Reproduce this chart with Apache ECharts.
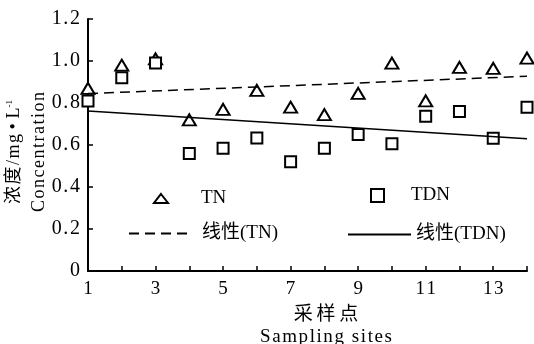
<!DOCTYPE html>
<html>
<head>
<meta charset="utf-8">
<script src="https://cdn.jsdelivr.net/npm/echarts@6/dist/echarts.min.js"></script>
<style>html,body{margin:0;padding:0;background:#fff;}#c{width:534px;height:344px;}</style>
</head>
<body>
<div id="c"></div>
<script>
// Data
var sites = [1, 2, 3, 4, 5, 6, 7, 8, 9, 10, 11, 12, 13, 14];
var tnValues = [0.87, 0.98, 1.01, 0.72, 0.77, 0.86, 0.78, 0.745, 0.846, 0.99, 0.81, 0.97, 0.965, 1.014];
var tdnValues = [0.81, 0.92, 0.99, 0.56, 0.585, 0.633, 0.52, 0.585, 0.65, 0.606, 0.737, 0.76, 0.632, 0.78];
var trendSites = [1, 14];
var tnTrend = [0.845, 0.927];
var tdnTrend = [0.762, 0.630];

function pairs(xs, ys) { return xs.map(function (x, i) { return [x, ys[i]]; }); }
var HS = '\u200A';
function spaced(s, sp) { return s.split('').join(sp); }

var FONT = "'Liberation Serif', 'Noto Sans CJK SC', serif";
var chart = echarts.init(document.getElementById('c'), null, {renderer: 'canvas'});
var legendText = {fontFamily: FONT, fontSize: 19, color: '#000'};
var hideSym = {opacity: 0};
chart.setOption({
  animation: false,
  backgroundColor: '#fff',
  grid: {left: 88, right: 7, top: 19, bottom: 73, containLabel: false, outerBoundsMode: 'none'},
  xAxis: {
    type: 'value', min: 1, max: 14, interval: 1,
    name: spaced('采样点', '\u2009') + '\n' + spaced('Sampling sites', HS),
    nameLocation: 'middle', nameGap: 30,
    nameTextStyle: {fontFamily: FONT, fontSize: 19, color: '#000', lineHeight: 22, padding: [0, 0, 0, 37]},
    axisLine: {show: true, lineStyle: {color: '#000', width: 2}},
    axisTick: {show: true, inside: true, length: 5, lineStyle: {color: '#000', width: 1.5}},
    axisLabel: {fontFamily: FONT, fontSize: 19, color: '#000', margin: 9,
      formatter: function (v) { return (v % 2 === 1) ? spaced(String(v), HS) : ''; }},
    splitLine: {show: false}
  },
  yAxis: {
    type: 'value', min: 0, max: 1.2, interval: 0.2,
    name: '{a|' + spaced('浓度/mg', HS) + ' • L}{sup|-1}\n{a|' + spaced('Concentration', HS) + '}',
    nameLocation: 'middle', nameGap: 36, nameMoveOverlap: false,
    nameTextStyle: {fontFamily: FONT, fontSize: 18, color: '#000', padding: [0, 14, 0, 0],
      rich: {a: {fontFamily: FONT, fontSize: 18, color: '#000', lineHeight: 25},
             sup: {fontFamily: FONT, fontSize: 9, color: '#000', lineHeight: 25, padding: [0, 0, 10, 0]}}},
    axisLine: {show: true, lineStyle: {color: '#000', width: 2}},
    axisTick: {show: true, inside: true, length: 5, lineStyle: {color: '#000', width: 1.5}},
    axisLabel: {fontFamily: FONT, fontSize: 20, color: '#000', margin: 8,
      formatter: function (v) { return v === 0 ? '0' : spaced(v.toFixed(1), HS); }},
    splitLine: {show: false}
  },
  legend: [
    {data: ['TN'], left: 153, top: 189, padding: 0, itemWidth: 14, itemHeight: 9,
      textStyle: Object.assign({padding: [0, 0, 13, 28]}, legendText)},
    {data: ['TDN'], left: 370, top: 186, padding: 0, itemWidth: 13, itemHeight: 13,
      textStyle: Object.assign({padding: [0, 0, 14, 22]}, legendText)},
    {data: ['线性(TN)'], left: 128, top: 224, padding: 0, itemWidth: 64, itemHeight: 14,
      itemStyle: hideSym, textStyle: Object.assign({padding: [4, 0, 0, 4]}, legendText)},
    {data: ['线性(TDN)'], left: 347, top: 225, padding: 0, itemWidth: 63, itemHeight: 14,
      itemStyle: hideSym, textStyle: Object.assign({padding: [2, 0, 0, 0]}, legendText)}
  ],
  series: [
    {name: 'TN', type: 'scatter', data: pairs(sites, tnValues), symbol: 'triangle', symbolSize: [13, 11], z: 2,
      itemStyle: {color: '#fff', borderColor: '#000', borderWidth: 2, opacity: 1}},
    {name: 'TDN', type: 'scatter', data: pairs(sites, tdnValues), symbol: 'rect', symbolSize: 11, z: 3,
      itemStyle: {color: '#fff', borderColor: '#000', borderWidth: 2, opacity: 1}},
    {name: '线性(TN)', type: 'line', data: pairs(trendSites, tnTrend), symbol: 'none', showSymbol: false, z: 4,
      color: '#000', lineStyle: {color: '#000', width: 1.5, type: [10, 6]}},
    {name: '线性(TDN)', type: 'line', data: pairs(trendSites, tdnTrend), symbol: 'none', showSymbol: false, z: 4,
      color: '#000', lineStyle: {color: '#000', width: 1.5, type: 'solid'}}
  ]
});
</script>
</body>
</html>
